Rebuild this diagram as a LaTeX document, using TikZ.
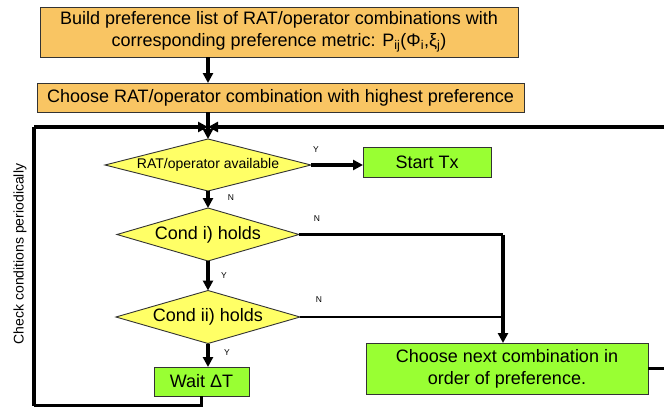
\documentclass[tikz,border=0pt]{standalone}
\usepackage{fontspec}
\setmainfont{Liberation Sans}
\usetikzlibrary{shapes.geometric,arrows.meta}
\definecolor{boxorange}{HTML}{F9C563}
\definecolor{boxgreen}{HTML}{99FF33}
\definecolor{dyellow}{HTML}{FFFF66}
\definecolor{edgegray}{HTML}{333333}
\begin{document}
\begin{tikzpicture}[x=1pt,y=-1pt,
  every node/.style={inner sep=0pt, outer sep=0pt, text=black},
  obox/.style={draw=edgegray, line width=0.9pt, fill=boxorange, font=\fontsize{18}{22}\selectfont, align=center},
  gbox/.style={draw=edgegray, line width=0.9pt, fill=boxgreen, font=\fontsize{18}{22}\selectfont, align=center},
  dbox/.style={diamond, draw=edgegray, line width=0.9pt, fill=dyellow, font=\fontsize{18}{22}\selectfont, align=center},
  lbl/.style={font=\fontsize{8.5}{10}\selectfont},
  arr/.style={line width=3.5pt, -{Triangle[length=10pt,width=10pt]}},
  thickline/.style={line width=3.5pt},
  thinline/.style={line width=2.6pt}
]
\clip (0,0) rectangle (664,407);
\fill[white] (0,0) rectangle (664,407);

\node[obox, minimum width=478pt, minimum height=50pt] (b1) at (279,32)
  {Build preference list of RAT/operator combinations with\\corresponding preference metric: P\textsubscript{ij}(Φ\textsubscript{i},ξ\textsubscript{j})};
\node[obox, minimum width=487pt, minimum height=29pt] (b2) at (280.5,97.5)
  {Choose RAT/operator combination with highest preference};

\node[dbox, aspect=3.96, minimum width=206pt, minimum height=52pt, font=\fontsize{14}{16}\selectfont] (d1) at (208,165) {RAT/operator available};
\node[dbox, aspect=3.43, minimum width=182pt, minimum height=53pt] (d2) at (208,234.5) {Cond i) holds};
\node[dbox, aspect=3.47, minimum width=184pt, minimum height=53pt] (d3) at (208,317) {Cond ii) holds};

\node[gbox, minimum width=128pt, minimum height=30pt] (tx) at (427,162) {Start Tx};
\node[gbox, minimum width=95pt, minimum height=29pt] (wait) at (201.5,381.5) {Wait ΔT};
\node[gbox, minimum width=282pt, minimum height=51pt] (next) at (507,368.5)
  {Choose next combination in\\order of preference.};

\node[rotate=90, font=\fontsize{14}{16}\selectfont] (chk) at (20,254) {Check conditions periodically};

\coordinate (jn) at (208,127);
\coordinate (tl) at (34,127);
\coordinate (bl) at (34,405.5);
\coordinate (tr) at (690,127);
\coordinate (nr) at (690,368.5);
\coordinate (m1) at (503,234.5);
\coordinate (m2) at (503,317);

% main flow
\draw[arr] (b1.south -| 208,0) -- (b2.north -| 208,0);
\draw[arr] (b2.south -| jn) -- (d1.north);
\draw[arr] (d1.east) -- (tx.west |- d1.east);
\draw[arr] (d1.south) -- (d2.north);
\draw[arr] (d2.south) -- (d3.north);
\draw[arr] (d3.south) -- (wait.north -| d3.south);

% N branches
\draw[thinline] (d2.east) -- (m1);
\draw[thinline] (d3.east) -- (m2);
\draw[arr] (m1) -- (next.north -| m1);

% loops
\draw[thinline] (wait.south) -- (wait.south |- bl) -- (bl);
\draw[thickline] (bl) -- (tl);
\draw[arr] (tl) -- (jn);
\draw[thinline] (next.east) -- (nr);
\draw[arr] (tr) -- (jn);

% labels
\node[lbl] (ly1) at (316,150) {Y};
\node[lbl] (ln1) at (231,198) {N};
\node[lbl] (ln2) at (317,219) {N};
\node[lbl] (ly2) at (224,276) {Y};
\node[lbl] (ln3) at (319,300) {N};
\node[lbl] (ly3) at (227,353) {Y};
\end{tikzpicture}
\end{document}
